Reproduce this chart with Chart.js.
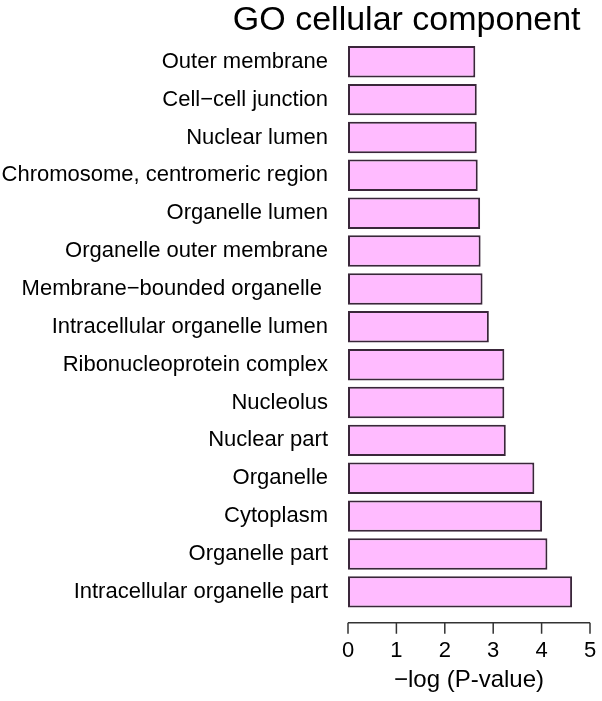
<!DOCTYPE html>
<html>
<head>
<meta charset="utf-8">
<script src="https://cdn.jsdelivr.net/npm/chart.js@4"></script>
<style>
  html, body { margin: 0; padding: 0; background: #fff; }
  #wrap { width: 602px; height: 701px; }
</style>
</head>
<body>
<div id="wrap"><canvas id="goChart"></canvas></div>
<script>
// categorie dall'alto verso il basso
const terms = [
  'Outer membrane',
  'Cell\u2212cell junction',
  'Nuclear lumen',
  'Chromosome, centromeric region',
  'Organelle lumen',
  'Organelle outer membrane',
  'Membrane\u2212bounded organelle ',
  'Intracellular organelle lumen',
  'Ribonucleoprotein complex',
  'Nucleolus',
  'Nuclear part',
  'Organelle',
  'Cytoplasm',
  'Organelle part',
  'Intracellular organelle part'
];
const negLogP = [2.63, 2.66, 2.66, 2.68, 2.73, 2.74, 2.78, 2.91, 3.23, 3.23, 3.26, 3.85, 4.01, 4.12, 4.63];
const xTicks = [0, 1, 2, 3, 4, 5];

const font = "'Liberation Sans', Arial, sans-serif";

// asse x staccato dal grafico, come in R
const rAxis = {
  id: 'rAxis',
  afterDraw(chart) {
    const c = chart.ctx;
    const x = chart.scales.x;
    const y0 = chart.chartArea.bottom + 12;
    c.save();
    c.strokeStyle = '#333';
    c.lineWidth = 1.5;
    c.beginPath();
    c.moveTo(x.getPixelForValue(xTicks[0]), y0);
    c.lineTo(x.getPixelForValue(xTicks[xTicks.length - 1]), y0);
    xTicks.forEach(t => {
      const px = x.getPixelForValue(t);
      c.moveTo(px, y0);
      c.lineTo(px, y0 + 11);
    });
    c.stroke();
    c.restore();
  }
};

new Chart(document.getElementById('goChart'), {
  type: 'bar',
  data: {
    labels: terms,
    datasets: [{
      data: negLogP,
      backgroundColor: '#FFBBFF',
      borderColor: '#3a263a',
      borderWidth: 2,
      borderSkipped: false,
      barPercentage: 0.83,
      categoryPercentage: 1
    }]
  },
  options: {
    indexAxis: 'y',
    responsive: true,
    maintainAspectRatio: false,
    animation: false,
    layout: { padding: { left: 0, right: 12, top: 0, bottom: 0 } },
    plugins: {
      legend: { display: false },
      tooltip: { enabled: false },
      title: {
        display: true,
        text: 'GO cellular component ',
        align: 'end',
        color: '#000',
        font: { family: font, size: 34, weight: 'normal' },
        padding: { top: 0, bottom: 2 }
      }
    },
    scales: {
      x: {
        min: 0,
        max: 5,
        afterBuildTicks(axis) { axis.ticks = xTicks.map(v => ({ value: v })); },
        grid: { display: false, drawTicks: true, tickLength: 25 },
        border: { display: false },
        ticks: { color: '#000', padding: 2, font: { family: font, size: 22 } },
        title: {
          display: true,
          text: '\u2212log (P-value)',
          color: '#000',
          font: { family: font, size: 24 },
          padding: { top: 0, bottom: 6 }
        }
      },
      y: {
        // le etichette lunghe occupano più di metà larghezza
        afterFit(scale) { scale.width = 348; },
        grid: { display: false, drawTicks: false },
        border: { display: false },
        ticks: { color: '#000', padding: 20, autoSkip: false, font: { family: font, size: 22 } }
      }
    }
  },
  plugins: [rAxis]
});
</script>
</body>
</html>
